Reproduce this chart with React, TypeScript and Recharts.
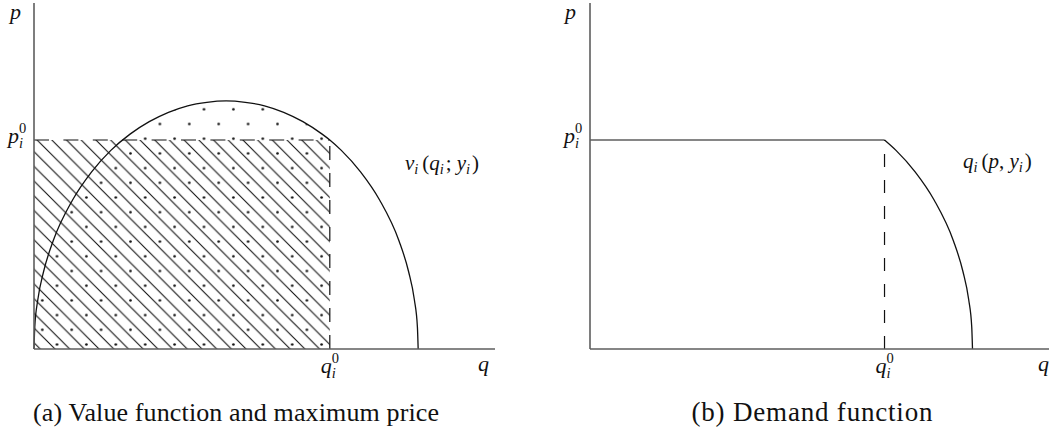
import React from 'react';
import { ComposedChart, Area, Line, XAxis, YAxis, ReferenceArea, ReferenceLine, ReferenceDot } from 'recharts';

// value function v_i(q; y_i), sampled along the curve
const curveQ = [0, 0.02, 0.1, 0.25, 0.5, 1, 1.5, 2, 2.5, 3, 3.5, 4, 4.5, 5, 5.5, 6, 6.5, 7, 7.5, 7.7, 8, 8.5, 9, 9.5, 9.75, 9.9, 9.98, 10];
const curveP = [0, 0.64, 1.43, 2.24, 3.13, 4.3, 5.12, 5.74, 6.21, 6.57, 6.84, 7.03, 7.13, 7.17, 7.13, 7.03, 6.84, 6.57, 6.21, 6.04, 5.74, 5.12, 4.3, 3.13, 2.24, 1.43, 0.64, 0];

// maximum price and the matching quantity
const q0 = 7.7;
const p0 = 6.04;

const qDomain = [0, 12];
const pDomain = [0, 10];

const valueData = curveQ.map((q, i) => ({ q, p: curveP[i] }));
const surplusData = valueData.filter((d) => d.q <= q0);
const demandFlat = [{ q: 0, p: p0 }, { q: q0, p: p0 }];
const demandCurve = valueData.filter((d) => d.q >= q0);

const AXIS = '#5e5e5e';
const INK = '#111';
const SERIF = '"Liberation Serif", "DejaVu Serif", serif';
const MATH = 22;
const SMALL = 14.5;

const W = 500;
const H = 433;
const margin = { top: 3, right: 5, bottom: 84, left: 34 };

// symbol with a stacked subscript / superscript, like p_i^0
const Sym = ({ x, y, base, sub, sup }: { x: number; y: number; base: string; sub?: string; sup?: string }) => (
  <g fontFamily={SERIF} fill={INK}>
    <text x={x} y={y} fontSize={MATH} fontStyle="italic">{base}</text>
    {sup && <text x={x + 11} y={y - 10} fontSize={SMALL}>{sup}</text>}
    {sub && <text x={x + 11} y={y + 5} fontSize={SMALL} fontStyle="italic">{sub}</text>}
  </g>
);

// function label such as v_i (q_i; y_i)
const FnLabel = ({ x, y, name, args, sep }: { x: number; y: number; name: string; args: [string, string | null][]; sep: string }) => (
  <text x={x} y={y} fontFamily={SERIF} fontSize={21} fill={INK}>
    <tspan fontStyle="italic">{name}</tspan>
    <tspan fontSize={SMALL} fontStyle="italic" dy={4}>i</tspan>
    <tspan dy={-4} dx={4}>(</tspan>
    {args.map(([a, s], k) => (
      <React.Fragment key={k}>
        {k > 0 && <tspan>{sep}</tspan>}
        <tspan fontStyle="italic">{a}</tspan>
        {s && <tspan fontSize={SMALL} fontStyle="italic" dy={4}>{s}</tspan>}
        {s && <tspan dy={-4}>{'\u200a'}</tspan>}
      </React.Fragment>
    ))}
    <tspan>)</tspan>
  </text>
);

const QMark = (props: any) => <Sym x={props.cx - 9} y={props.cy + 24} base="q" sub="i" sup="0" />;
const PMark = (props: any) => <Sym x={props.cx - 26} y={props.cy + 3} base="p" sub="i" sup="0" />;

// axes drawn as segments through the chart scales
const Axes = () => [
  <ReferenceLine key="qa" segment={[{ x: 0, y: 0 }, { x: qDomain[1], y: 0 }]} stroke={AXIS} strokeWidth={1.6} ifOverflow="visible" />,
  <ReferenceLine key="pa" segment={[{ x: 0, y: 0 }, { x: 0, y: pDomain[1] }]} stroke={AXIS} strokeWidth={1.6} ifOverflow="visible" />,
  <ReferenceDot key="qt" x={q0} y={0} r={0} shape={QMark} ifOverflow="visible" />,
  <ReferenceDot key="pt" x={0} y={p0} r={0} shape={PMark} ifOverflow="visible" />,
];

const Caption = ({ x, text, len, size }: { x: number; text: string; len: number; size: number }) => (
  <text x={x} y={421} textAnchor="middle" fontFamily={SERIF} fontSize={size} fill={INK} textLength={len}>
    {text}
  </text>
);

const ValuePanel = () => (
  <ComposedChart width={W} height={H} data={valueData} margin={margin}>
    <defs>
      <pattern id="dotFill" patternUnits="userSpaceOnUse" x={20.25} y={13.75} width={29.4} height={29.4}>
        <circle cx={7.35} cy={7.35} r={1.3} fill={INK} />
        <circle cx={22.05} cy={22.05} r={1.3} fill={INK} />
      </pattern>
      <pattern id="hatch" patternUnits="userSpaceOnUse" width={14.7} height={14.7}>
        <path d="M0,0 L14.7,14.7 M-1,13.7 L1,15.7 M13.7,-1 L15.7,1" stroke={INK} strokeWidth={1.1} />
      </pattern>
    </defs>
    <XAxis dataKey="q" type="number" domain={qDomain} hide />
    <YAxis type="number" domain={pDomain} hide />
    <ReferenceArea x1={0} x2={q0} y1={0} y2={p0} fill="url(#hatch)" fillOpacity={1} stroke="none" />
    <Area data={surplusData} dataKey="p" type="monotone" stroke="none" fill="url(#dotFill)" fillOpacity={1}
      dot={false} activeDot={false} isAnimationActive={false} />
    <Line dataKey="p" type="monotone" stroke={INK} strokeWidth={1.3} dot={false} activeDot={false} isAnimationActive={false} />
    <ReferenceLine segment={[{ x: 0, y: p0 }, { x: q0, y: p0 }]} stroke={INK} strokeWidth={1.2} strokeDasharray="15 14.4" />
    <ReferenceLine segment={[{ x: q0, y: 0 }, { x: q0, y: p0 }]} stroke={INK} strokeWidth={1.2} strokeDasharray="14 13" />
    {Axes()}
    <g fontFamily={SERIF} fontSize={MATH} fontStyle="italic" fill={INK}>
      <text x={10} y={19}>p</text>
      <text x={478} y={371}>q</text>
    </g>
    <FnLabel x={405} y={170} name="v" sep="; " args={[['q', 'i'], ['y', 'i']]} />
    <Caption x={236} text="(a) Value function and maximum price" len={406} size={26} />
  </ComposedChart>
);

const DemandPanel = () => (
  <ComposedChart width={495} height={H} margin={{ ...margin, right: 2 }}>
    <XAxis dataKey="q" type="number" domain={qDomain} hide />
    <YAxis type="number" domain={pDomain} hide />
    <ReferenceLine segment={[{ x: q0, y: 0 }, { x: q0, y: p0 }]} stroke={INK} strokeWidth={1.2} strokeDasharray="13 13" />
    <Line data={demandFlat} dataKey="p" type="linear" stroke={AXIS} strokeWidth={1.6} dot={false} activeDot={false}
      isAnimationActive={false} />
    <Line data={demandCurve} dataKey="p" type="monotone" stroke={INK} strokeWidth={1.3} dot={false} activeDot={false}
      isAnimationActive={false} />
    {Axes()}
    <g fontFamily={SERIF} fontSize={MATH} fontStyle="italic" fill={INK}>
      <text x={9} y={19}>p</text>
      <text x={482} y={371}>q</text>
    </g>
    <FnLabel x={407} y={168} name="q" sep=", " args={[['p', null], ['y', 'i']]} />
    <Caption x={256} text="(b) Demand function" len={241} size={27} />
  </ComposedChart>
);

export default function App() {
  return (
    <div style={{ position: 'absolute', left: 0, top: 0, width: 1051, height: 433, background: '#fff' }}>
      <div style={{ position: 'absolute', left: 0, top: 0 }}>
        <ValuePanel />
      </div>
      <div style={{ position: 'absolute', left: 556, top: 0 }}>
        <DemandPanel />
      </div>
    </div>
  );
}
